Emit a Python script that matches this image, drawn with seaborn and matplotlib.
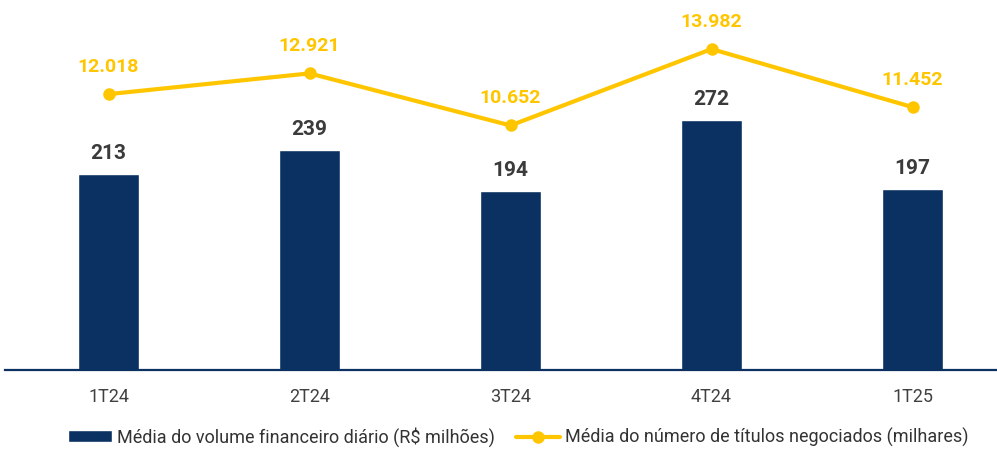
import matplotlib.pyplot as plt
import numpy as np
import seaborn as sns

quarters = ['1T24', '2T24', '3T24', '4T24', '1T25']
volume = [213, 239, 194, 272, 197]
titles = [12.018, 12.921, 10.652, 13.982, 11.452]
volume_labels = ['213', '239', '194', '272', '197']
titles_labels = ['12.018', '12.921', '10.652', '13.982', '11.452']

NAVY = '#0A3161'
YELLOW = '#FFC600'
DARK = '#3b3b3b'

sns.set_theme(style='white')
plt.rcParams['font.family'] = ['Roboto', 'DejaVu Sans']

fig = plt.figure(figsize=(9.97, 4.5), dpi=100)
ax = fig.add_axes([0.005, 0.178, 0.995, 0.822])

sns.barplot(x=quarters, y=volume, ax=ax, color=NAVY, width=0.30,
            saturation=1, legend=False,
            label='Média do volume financeiro diário (R$ milhões)')
ax.bar_label(ax.containers[0], labels=volume_labels, padding=8,
             fontsize=15, fontweight='bold', color=DARK)
ax.set_ylim(0, 402)
ax.set_xlim(-0.515, 4.42)
if ax.get_legend() is not None:
    ax.get_legend().remove()

ax2 = ax.twinx()
sns.lineplot(x=np.arange(len(quarters)), y=titles, ax=ax2, color=YELLOW,
             linewidth=3, marker='o', markersize=9, markeredgewidth=0,
             label='Média do número de títulos negociados (milhares)', legend=False)
for i, (v, t) in enumerate(zip(titles, titles_labels)):
    ax2.annotate(t, (i, v), xytext=(0, 13), textcoords='offset points',
                 ha='center', va='bottom', fontsize=14, fontweight='bold',
                 color=YELLOW)
ax2.set_ylim(0, 16.12)

for a in (ax, ax2):
    for s in ('top', 'right', 'left'):
        a.spines[s].set_visible(False)
    a.set_yticks([])
    a.set_ylabel('')
ax2.spines['bottom'].set_visible(False)
ax.spines['bottom'].set_color(NAVY)
ax.spines['bottom'].set_linewidth(1.6)

ax.tick_params(axis='x', length=0, pad=13, labelsize=13, labelcolor='#404040')
ax.set_xlabel('')

h1, l1 = ax.get_legend_handles_labels()
h2, l2 = ax2.get_legend_handles_labels()
fig.legend(h1 + h2, l1 + l2, loc='center', bbox_to_anchor=(0.52, 0.029),
           ncol=2, frameon=False, fontsize=13, handlelength=2.4,
           handleheight=0.6, handletextpad=0.3, columnspacing=1.2,
           labelcolor='#333333')

fig.savefig('out.png', dpi=100)
